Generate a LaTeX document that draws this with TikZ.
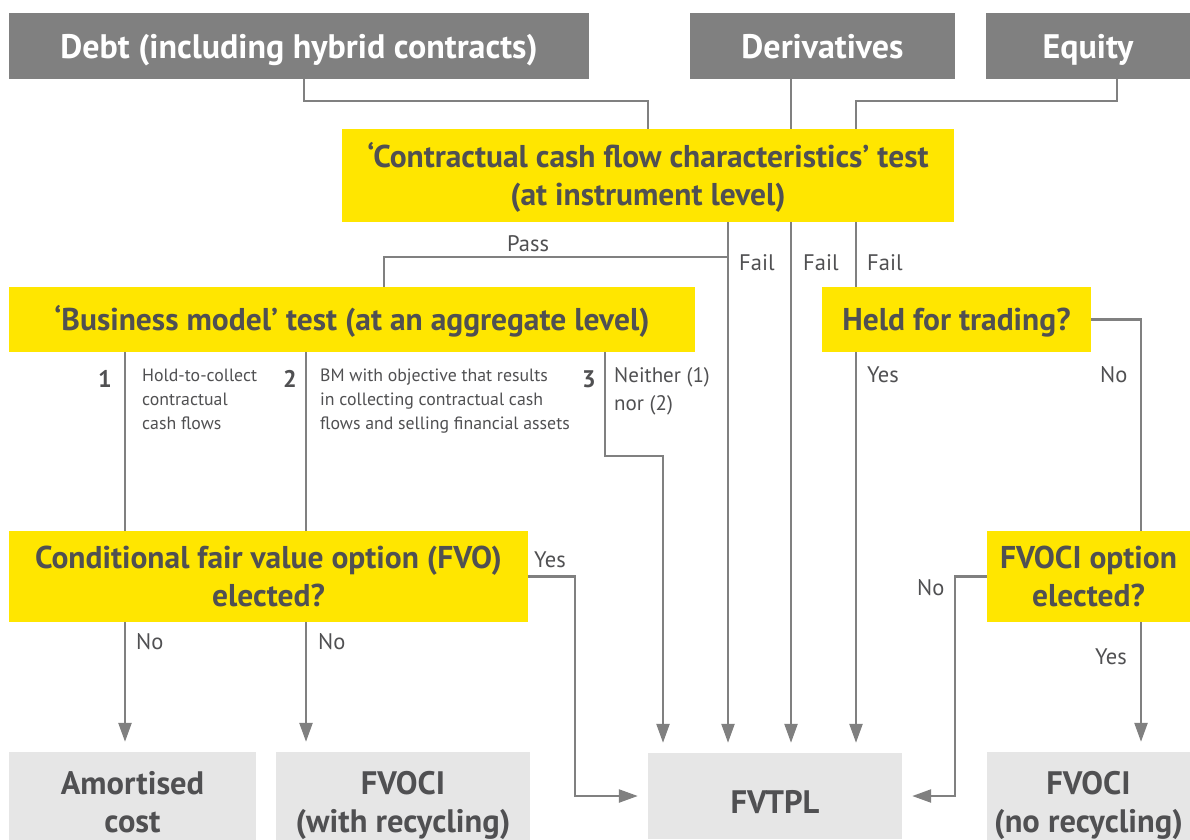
\documentclass[tikz,border=0pt]{standalone}
\usepackage{fontspec}
\setmainfont{PT Sans}
\usetikzlibrary{arrows.meta}
\definecolor{eyyellow}{HTML}{FFE600}
\definecolor{eytext}{HTML}{505052}
\definecolor{srcgrey}{HTML}{808080}
\definecolor{resgrey}{HTML}{E6E6E6}
\definecolor{linegrey}{HTML}{808080}
% invisible struts to fix the first and last line of a box
\newcommand{\padtop}[1]{\rule{0pt}{#1}}
\newcommand{\padbot}[1]{\rule[-#1]{0pt}{#1}}
\begin{document}
\begin{tikzpicture}[x=1pt, y=-1pt,
    src/.style={fill=srcgrey, text=white, inner sep=0pt, minimum height=66pt,
        text height=24pt, text depth=0pt, font=\bfseries\fontsize{34}{38}\selectfont},
    test/.style={fill=eyyellow, text=eytext, inner sep=0pt, align=center,
        font=\bfseries\fontsize{31.5}{38}\selectfont},
    result/.style={fill=resgrey, text=eytext, inner sep=0pt, align=center, minimum height=86pt,
        font=\bfseries\fontsize{32.5}{38}\selectfont},
    flow/.style={draw=linegrey, line width=2.4pt},
    arr/.style={flow, -{Triangle[width=13pt,length=19pt]}, shorten >=10pt},
    lbl/.style={text=eytext, inner sep=0pt, anchor=base west, font=\fontsize{22.5}{26}\selectfont},
    note/.style={text=eytext, inner sep=0pt, anchor=north west, align=left,
        font=\fontsize{17.8}{24}\selectfont},
    num/.style={text=eytext, inner sep=0pt, anchor=base west, font=\bfseries\fontsize{24}{26}\selectfont}]
    \useasboundingbox (0,0) rectangle (1190,839);

    % vertical lanes
    \coordinate (lane1) at (728,0);
    \coordinate (lane2) at (791,0);
    \coordinate (lane3) at (856,0);
    \coordinate (lane4) at (1141,0);
    \coordinate (bm1) at (125,0);
    \coordinate (bm2) at (306,0);
    \coordinate (bm3) at (605,0);
    \coordinate (bm3in) at (663,0);

    % instruments
    \node[src, minimum width=580pt] (debt) at (299,46) {Debt (including hybrid contracts)};
    \node[src, minimum width=265pt] (deriv) at (822.5,46) {Derivatives};
    \node[src, minimum width=204pt] (equity) at (1088,46) {Equity};

    % tests
    \node[test, minimum width=612pt, minimum height=93pt] (ccf) at (648,175.5)
        {\padtop{30pt}`Contractual cash flow characteristics' test\\(at instrument level)\padbot{8pt}};
    \node[test, minimum width=686pt, minimum height=65pt, text height=30pt, text depth=8pt] (bm) at (352,319.5)
        {`Business model' test (at an aggregate level)};
    \node[test, minimum width=269pt, minimum height=65pt, text height=30pt, text depth=8pt] (hft) at (956.5,319.5)
        {Held for trading?};
    \node[test, minimum width=519pt, minimum height=91pt] (cfvo) at (268.5,576.5)
        {\padtop{30pt}Conditional fair value option (FVO)\\elected?\padbot{8pt}};
    \node[test, minimum width=203pt, minimum height=91pt] (fvopt) at (1088.5,576.5)
        {\padtop{30pt}FVOCI option\\elected?\padbot{8pt}};

    % measurement outcomes
    \node[result, minimum width=247pt] (amort) at (132.5,796) {\padtop{42pt}Amortised\\cost\padbot{8pt}};
    \node[result, minimum width=254pt] (fvoci) at (403,796) {\padtop{42pt}FVOCI\\(with recycling)\padbot{8pt}};
    \node[result, minimum width=254pt, text height=42pt, text depth=8pt] (fvtpl) at (775,796) {FVTPL};
    \node[result, minimum width=203pt] (fvocinr) at (1088.5,796) {\padtop{42pt}FVOCI\\(no recycling)\padbot{8pt}};

    % into the SPPI test
    \draw[flow] ([xshift=5]debt.south) -- ++(0,22) -| (ccf.north);
    \draw[flow] (deriv.south -| lane2) -- (ccf.north -| lane2);
    \draw[flow] ([xshift=29]equity.south) -- ++(0,22) -| (ccf.north -| lane3);

    % fail / pass
    \draw[arr] (ccf.south -| lane1) -- (fvtpl.north -| lane1);
    \draw[arr] (ccf.south -| lane2) -- (fvtpl.north -| lane2);
    \draw[flow] (ccf.south -| lane3) -- (hft.north -| lane3);
    \draw[arr] (hft.south -| lane3) -- (fvtpl.north -| lane3);
    \coordinate (pass) at (728,257);
    \draw[flow] (pass) -| ([xshift=32]bm.north);
    \node[lbl] (passlbl) at (507,251) {Pass};
    \node[lbl] (fail1) at (739,270) {Fail};
    \node[lbl] (fail2) at (803,270) {Fail};
    \node[lbl] (fail3) at (867,270) {Fail};

    % business models
    \draw[flow] (bm.south -| bm1) -- (cfvo.north -| bm1);
    \draw[flow] (bm.south -| bm2) -- (cfvo.north -| bm2);
    \draw[arr] (bm.south -| bm3) -- ++(0,104) -| (fvtpl.north -| bm3in);
    \node[num] (n1) at (98,387) {1};
    \node[num] (n2) at (283,387) {2};
    \node[num] (n3) at (582,387) {3};
    \node[note] (htc) at (142,369) {Hold-to-collect\\contractual\\cash flows};
    \node[note] (htcs) at (320,369) {BM with objective that results\\in collecting contractual cash\\flows and selling financial assets};
    \node[note, font=\fontsize{21}{28}\selectfont] (neither) at (614,367) {Neither (1)\\nor (2)};

    % FVO
    \draw[arr] (cfvo.south -| bm1) -- (amort.north -| bm1);
    \draw[arr] (cfvo.south -| bm2) -- (fvoci.north -| bm2);
    \draw[arr] (cfvo.east) -- ++(47,0) |- (fvtpl.west);
    \node[lbl] (no1) at (136,649) {No};
    \node[lbl] (no2) at (318,649) {No};
    \node[lbl] (yes1) at (534,567) {Yes};

    % equity branch
    \draw[flow] (hft.east) -| (fvopt.north -| lane4);
    \draw[arr] (fvopt.south -| lane4) -- (fvocinr.north -| lane4);
    \draw[arr] (fvopt.west) -- ++(-32,0) |- (fvtpl.east);
    \node[lbl] (yes2) at (867,382) {Yes};
    \node[lbl] (no3) at (1100,382) {No};
    \node[lbl] (no4) at (917,595) {No};
    \node[lbl] (yes3) at (1095,664) {Yes};
\end{tikzpicture}
\end{document}
